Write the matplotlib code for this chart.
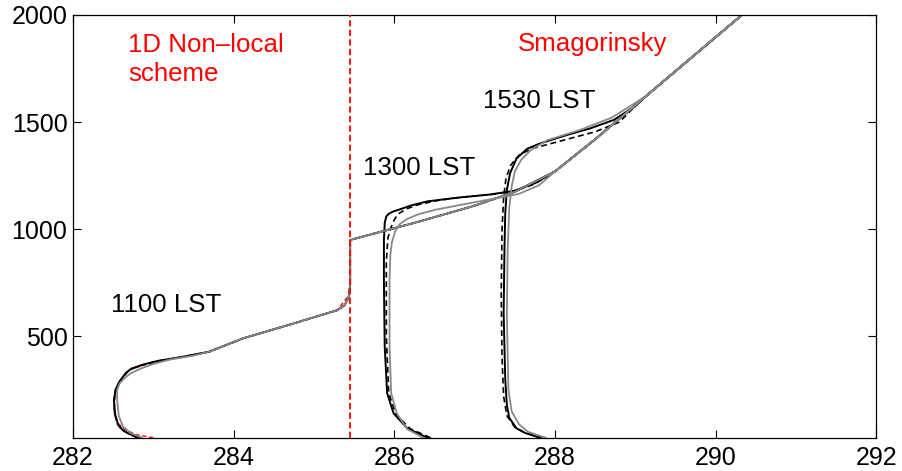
import numpy as np
import matplotlib
matplotlib.use("Agg")
import matplotlib.pyplot as plt

plt.rcParams['font.family'] = ['Liberation Sans', 'DejaVu Sans']

# theta (K) and height (m)
# 1100 LST
th_1100_les = [282.82, 282.70, 282.62, 282.56, 282.52, 282.51, 282.53, 282.58, 282.66, 282.72,
               282.86, 283.05, 283.34, 283.69, 284.12, 284.70, 285.29, 285.38, 285.43, 285.45,
               285.45, 286.30, 287.00, 287.50, 288.00, 288.50, 289.37, 290.42]
z_1100_les = [27, 45, 62, 90, 140, 200, 250, 290, 330, 348,
              367, 385, 403, 428, 491, 555, 622, 645, 680, 740,
              950, 1035, 1110, 1175, 1270, 1420, 1697, 2030]
th_1100_dash = [282.80, 282.69, 282.61, 282.55, 282.52, 282.51, 282.53, 282.59, 282.67, 282.73,
                282.87, 283.06, 283.35, 283.70, 284.12, 284.70, 285.29, 285.38, 285.43, 285.45,
                285.45, 286.30, 287.00, 287.50, 288.00, 288.50, 289.37, 290.42]
z_1100_dash = [27, 46, 63, 92, 142, 200, 252, 292, 331, 349,
               367, 385, 403, 428, 491, 555, 622, 645, 680, 740,
               950, 1035, 1110, 1175, 1270, 1420, 1697, 2030]
th_1100_gray = [282.86, 282.72, 282.62, 282.57, 282.55, 282.55, 282.58, 282.64, 282.73, 282.86,
                283.01, 283.21, 283.50, 283.71, 284.12, 284.70, 285.29, 285.38, 285.43, 285.45,
                285.45, 286.30, 287.00, 287.50, 288.00, 288.50, 289.37, 290.42]
z_1100_gray = [27, 48, 80, 130, 200, 250, 280, 305, 330, 352,
               372, 392, 410, 430, 491, 555, 622, 645, 680, 740,
               950, 1035, 1110, 1175, 1270, 1420, 1697, 2030]
th_1100_1d = [283.00, 282.78, 282.62, 282.55, 282.52, 282.52, 282.56, 282.64, 282.72, 282.88,
              283.10, 283.40, 283.70, 284.12, 285.29, 285.45]
z_1100_1d = [27, 42, 70, 100, 160, 230, 280, 320, 345, 366,
             386, 405, 428, 491, 622, 700]

# 1300 LST
th_1300_les = [286.41, 286.16, 285.99, 285.91, 285.88, 285.87, 285.87, 285.88, 285.90, 285.93,
               285.98, 286.07, 286.20, 286.41, 286.78, 287.19, 287.50, 287.75, 288.00, 288.50,
               289.37, 290.42]
z_1300_les = [27, 71, 141, 235, 452, 763, 950, 1030, 1060, 1072,
              1082, 1093, 1110, 1130, 1147, 1162, 1180, 1215, 1270, 1420,
              1697, 2030]
th_1300_dash = [286.45, 286.20, 286.02, 285.93, 285.90, 285.90, 285.92, 285.96, 286.00, 286.05,
                286.15, 286.30, 286.55, 286.85, 287.20, 287.50, 287.75, 288.00, 288.50, 289.37,
                290.42]
z_1300_dash = [27, 68, 135, 235, 500, 850, 960, 1010, 1045, 1072,
               1095, 1115, 1135, 1150, 1162, 1178, 1212, 1270, 1420, 1697,
               2030]
th_1300_gray = [286.36, 286.16, 286.03, 285.96, 285.94, 285.94, 285.95, 285.97, 286.01, 286.07,
                286.16, 286.30, 286.50, 286.80, 287.20, 287.55, 287.80, 288.00, 288.50, 289.37,
                290.42]
z_1300_gray = [27, 67, 141, 235, 452, 763, 880, 940, 990, 1025,
               1048, 1070, 1090, 1112, 1140, 1165, 1205, 1270, 1420, 1697,
               2030]

# 1530 LST
th_1530_les = [287.81, 287.62, 287.52, 287.43, 287.40, 287.38, 287.36, 287.37, 287.38, 287.40,
               287.44, 287.52, 287.65, 287.81, 288.15, 288.44, 288.73, 289.00, 289.15, 289.37,
               290.42]
z_1530_les = [27, 50, 71, 120, 180, 300, 608, 900, 1075, 1183,
              1261, 1330, 1375, 1400, 1440, 1471, 1510, 1575, 1627, 1697,
              2030]
th_1530_dash = [287.84, 287.63, 287.50, 287.40, 287.36, 287.34, 287.33, 287.34, 287.36, 287.39,
                287.45, 287.55, 287.70, 287.90, 288.20, 288.50, 288.80, 289.05, 289.37, 290.42]
z_1530_dash = [27, 50, 75, 130, 220, 400, 700, 1000, 1150, 1240,
               1300, 1345, 1375, 1395, 1425, 1455, 1500, 1595, 1697, 2030]
th_1530_gray = [287.88, 287.66, 287.55, 287.46, 287.42, 287.40, 287.41, 287.43, 287.46, 287.50,
                287.58, 287.70, 287.90, 288.30, 288.70, 288.98, 289.15, 289.37, 290.42]
z_1530_gray = [27, 55, 90, 150, 250, 600, 900, 1100, 1200, 1270,
               1325, 1370, 1415, 1462, 1520, 1585, 1627, 1697, 2030]

divider_x = 285.45

fig = plt.figure(figsize=(9.03, 4.71), dpi=100)
ax = fig.add_axes([0.0808, 0.0707, 0.8898, 0.8975])

ax.plot(th_1100_1d, z_1100_1d, color='red', lw=1.0, ls=(0, (3, 2)))

for th, z in [(th_1100_les, z_1100_les), (th_1300_les, z_1300_les), (th_1530_les, z_1530_les)]:
    ax.plot(th, z, color='black', lw=1.4)
for th, z in [(th_1100_dash, z_1100_dash), (th_1300_dash, z_1300_dash), (th_1530_dash, z_1530_dash)]:
    ax.plot(th, z, color='black', lw=1.2, ls=(0, (3.5, 2.2)))
for th, z in [(th_1100_gray, z_1100_gray), (th_1300_gray, z_1300_gray), (th_1530_gray, z_1530_gray)]:
    ax.plot(th, z, color='#888888', lw=1.3)

ax.axvline(divider_x, color='red', lw=1.3, ls=(0, (3.5, 1.8)), zorder=5)

ax.text(282.69, 1860, '1D Non\u2013local', color='red', fontsize=18.6, va='center')
ax.text(282.69, 1725, 'scheme', color='red', fontsize=18.6, va='center')
ax.text(287.54, 1865, 'Smagorinsky', color='red', fontsize=18.6, va='center')
ax.text(282.47, 647, '1100 LST', fontsize=18.6, va='center')
ax.text(285.61, 1286, '1300 LST', fontsize=18.6, va='center')
ax.text(287.10, 1599, '1530 LST', fontsize=18.6, va='center')

ax.set_xlim(282, 292)
ax.set_ylim(27, 2000)
ax.set_xticks(np.arange(282, 293, 2))
ax.set_yticks([500, 1000, 1500, 2000])
ax.tick_params(direction='in', top=True, right=True, length=5.5, width=0.8,
               labelsize=18)
ax.tick_params(axis='x', pad=6)
ax.tick_params(axis='y', pad=4)
for s in ax.spines.values():
    s.set_linewidth(0.9)

fig.savefig('out.png', dpi=100)
